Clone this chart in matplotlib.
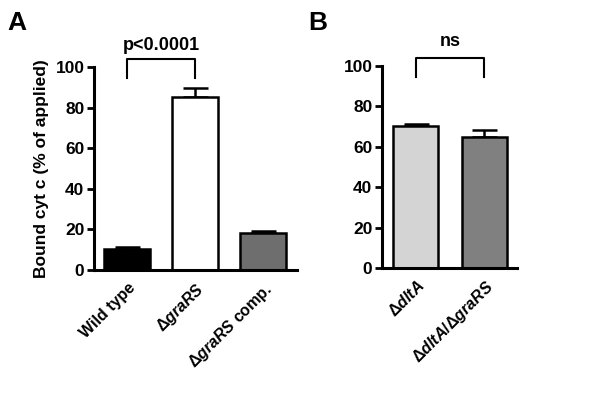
import matplotlib
matplotlib.use("Agg")
import matplotlib.pyplot as plt
import matplotlib.transforms as mtransforms

plt.rcParams['font.family'] = ['Liberation Sans', 'DejaVu Sans']
plt.rcParams['font.weight'] = 'bold'
plt.rcParams['mathtext.fontset'] = 'custom'
plt.rcParams['mathtext.rm'] = 'Liberation Sans:bold'
plt.rcParams['mathtext.it'] = 'Liberation Sans:bold:italic'
plt.rcParams['mathtext.bf'] = 'Liberation Sans:bold'

# Panel A data
a_labels = ["Wild type", r"Δ$\mathit{graRS}$", r"Δ$\mathit{graRS}$ comp."]
a_values = [10.5, 85.0, 18.0]
a_errors = [0.8, 4.5, 1.2]
a_colors = ["#000000", "#ffffff", "#6e6e6e"]

# Panel B data
b_labels = [r"Δ$\mathit{dltA}$", r"Δ$\mathit{dltA}$/Δ$\mathit{graRS}$"]
b_values = [70.5, 65.0]
b_errors = [1.0, 3.5]
b_colors = ["#d4d4d4", "#808080"]

yticks = [0, 20, 40, 60, 80, 100]

fig = plt.figure(figsize=(6, 4), dpi=100)
axA = fig.add_axes([0.157, 0.325, 0.338, 0.5075])
axB = fig.add_axes([0.637, 0.33, 0.225, 0.505])


def style(ax, labels, values, errors, colors, width, xlim, sig, sig_y):
    x = list(range(len(values)))
    ax.bar(x, values, width=width, color=colors, edgecolor='black', linewidth=1.8, zorder=2)
    for xi, v, e in zip(x, values, errors):
        ax.errorbar([xi], [v], yerr=[[0], [e]], fmt='none', ecolor='black',
                    elinewidth=1.8, capsize=9, capthick=1.8, zorder=1)
    ax.set_xlim(*xlim)
    ax.set_ylim(0, 100)
    ax.set_yticks(yticks)
    ax.set_yticklabels([str(t) for t in yticks], fontsize=12.5, fontweight='bold')
    ax.set_xticks(x)
    ax.set_xticklabels(labels, rotation=45, ha='right', rotation_mode='anchor',
                       fontsize=11.5, fontweight='bold')
    offset = mtransforms.ScaledTranslation(8 / 100, 0, fig.dpi_scale_trans)
    for lab in ax.get_xticklabels():
        lab.set_transform(lab.get_transform() + offset)
    ax.tick_params(axis='x', length=0, pad=7)
    ax.tick_params(axis='y', length=5, width=2, direction='out', pad=2)
    for s in ['top', 'right']:
        ax.spines[s].set_visible(False)
    for s in ['left', 'bottom']:
        ax.spines[s].set_linewidth(2.2)
    # significance bracket
    ax.plot([0, 0, 1, 1], [94.5, 104, 104, 94.5], color='black', lw=1.5, clip_on=False)
    ax.text(0.5, sig_y, sig, ha='center', va='baseline', fontsize=13, fontweight='bold')


style(axA, a_labels, a_values, a_errors, a_colors, 0.68, (-0.49, 2.5), "p<0.0001", 108.5)
style(axB, b_labels, b_values, b_errors, b_colors, 0.66, (-0.49, 1.48), "ns", 110.0)

axA.set_ylabel("Bound cyt c (% of applied)", fontsize=12.5, fontweight='bold', labelpad=5)

fig.text(0.013, 0.925, "A", fontsize=19, fontweight='bold', ha='left', va='baseline')
fig.text(0.513, 0.925, "B", fontsize=19, fontweight='bold', ha='left', va='baseline')

fig.savefig("out.png", dpi=100, facecolor='white')
